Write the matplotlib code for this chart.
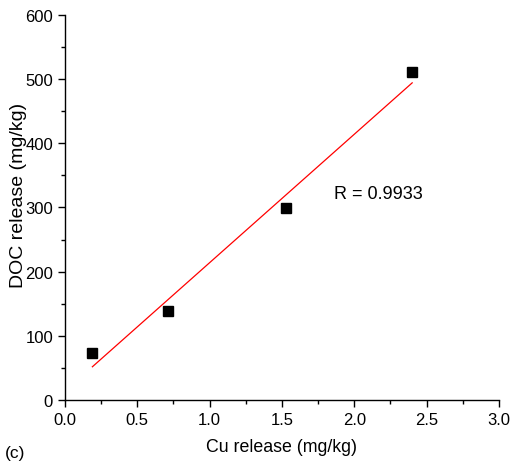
import numpy as np
import matplotlib
matplotlib.use("Agg")
import matplotlib.pyplot as plt
from matplotlib.ticker import MultipleLocator

plt.rcParams['font.family'] = ['Liberation Sans', 'DejaVu Sans']

cu_release = np.array([0.19, 0.71, 1.53, 2.40])
doc_release = np.array([73, 139, 299, 511])
r_label = "R = 0.9933"

fig = plt.figure(figsize=(5.11, 4.64), dpi=100)
ax = fig.add_axes([0.127, 0.1358, 0.8495, 0.8297])

ax.plot(cu_release, doc_release, 's', color='black', markersize=6.5, zorder=3)

slope, intercept = np.polyfit(cu_release, doc_release, 1)
xs = np.array([cu_release.min(), cu_release.max()])
ax.plot(xs, slope * xs + intercept, color='red', linewidth=0.9)

ax.set_xlim(0, 3.0)
ax.set_ylim(0, 600)
ax.xaxis.set_major_locator(MultipleLocator(0.5))
ax.xaxis.set_minor_locator(MultipleLocator(0.25))
ax.yaxis.set_major_locator(MultipleLocator(100))
ax.yaxis.set_minor_locator(MultipleLocator(50))
ax.xaxis.set_major_formatter(matplotlib.ticker.FormatStrFormatter('%.1f'))

for side in ('top', 'right'):
    ax.spines[side].set_visible(False)
for side in ('left', 'bottom'):
    ax.spines[side].set_linewidth(1.0)
ax.tick_params(which='major', direction='out', length=5, width=1, labelsize=12)
ax.tick_params(which='minor', direction='out', length=3, width=1)

ax.set_xlabel("Cu release (mg/kg)", fontsize=12.8, va='center')
ax.set_ylabel("DOC release (mg/kg)", fontsize=14, va='center')
ax.xaxis.set_label_coords(0.5, -0.122)
ax.yaxis.set_label_coords(-0.108, 0.535)

ax.text(1.86, 322, r_label, fontsize=13, ha='left', va='center')
fig.text(0.01, 0.022, "(c)", fontsize=12.5, ha='left', va='center')

fig.savefig("out.png", dpi=100)
